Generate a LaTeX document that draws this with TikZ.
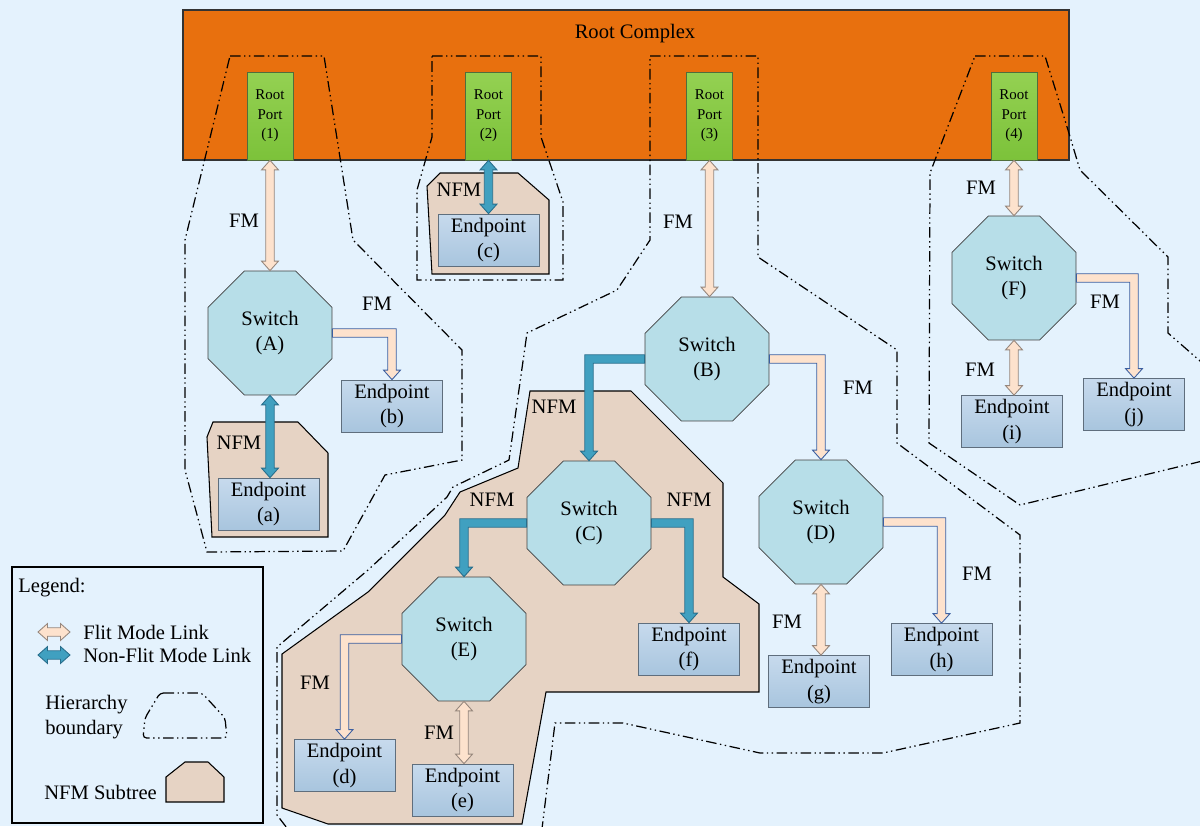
\documentclass[tikz,border=0pt]{standalone}
\usepackage{fontspec}
\setmainfont{Liberation Serif}
\usetikzlibrary{calc,shapes.geometric}

\definecolor{bgblue}{RGB}{228,242,253}
\definecolor{rcorange}{RGB}{232,112,14}
\definecolor{porttop}{RGB}{148,209,82}
\definecolor{portbot}{RGB}{124,194,58}
\definecolor{portline}{RGB}{80,110,60}
\definecolor{swfill}{RGB}{183,222,232}
\definecolor{eptop}{RGB}{199,218,237}
\definecolor{epbot}{RGB}{168,197,222}
\definecolor{epline}{RGB}{95,110,125}
\definecolor{subfill}{RGB}{230,211,196}
\definecolor{fmfill}{RGB}{253,226,205}
\definecolor{fmline}{RGB}{150,135,125}
\definecolor{fmblue}{RGB}{60,95,160}
\definecolor{nfmfill}{RGB}{64,160,192}
\definecolor{nfmline}{RGB}{40,110,140}

\tikzset{
  txt/.style={font=\fontsize{11.7}{14.5}\selectfont, align=center},
  ltxt/.style={txt, inner sep=0pt, anchor=west},
  port/.style={draw=portline, top color=porttop, bottom color=portbot, minimum width=0.92cm,
    minimum height=1.76cm, inner sep=0pt, font=\fontsize{8.5}{11}\selectfont, align=center},
  switch/.style={txt, draw=black!75, fill=swfill, regular polygon, regular polygon sides=8,
    minimum size=2.684cm, inner sep=0pt},
  endpoint/.style={txt, draw=epline, top color=eptop, bottom color=epbot, minimum width=2.02cm,
    minimum height=1.04cm, inner sep=0pt},
  subtree/.style={draw=black, fill=subfill, line width=0.6pt},
  hbound/.style={draw=black, line width=0.7pt, dash pattern=on 6pt off 2pt on 0.8pt off 2pt on 0.8pt off 2pt},
  fm/.style={draw=fmline, fill=fmfill, line width=0.5pt},
  fmb/.style={draw=fmblue, fill=fmfill, line width=0.5pt},
  nfm/.style={draw=nfmline, fill=nfmfill, line width=0.5pt},
  dblv/.style={to path={let \p1=(\tikztostart.south), \p2=(\tikztotarget.north) in
    (\x1,\y1) -- (\x1+4.8pt,\y1-5.4pt) -- (\x1+2.4pt,\y1-5.4pt) -- (\x1+2.4pt,\y2+5.4pt)
    -- (\x1+4.8pt,\y2+5.4pt) -- (\x1,\y2) -- (\x1-4.8pt,\y2+5.4pt) -- (\x1-2.4pt,\y2+5.4pt)
    -- (\x1-2.4pt,\y1-5.4pt) -- (\x1-4.8pt,\y1-5.4pt) -- cycle}},
  dblh/.style={to path={let \p1=(\tikztostart), \p2=(\tikztotarget) in
    (\x1,\y1) -- (\x1+5.4pt,\y1+4.8pt) -- (\x1+5.4pt,\y1+2.4pt) -- (\x2-5.4pt,\y1+2.4pt)
    -- (\x2-5.4pt,\y1+4.8pt) -- (\x2,\y1) -- (\x2-5.4pt,\y1-4.8pt) -- (\x2-5.4pt,\y1-2.4pt)
    -- (\x1+5.4pt,\y1-2.4pt) -- (\x1+5.4pt,\y1-4.8pt) -- cycle}},
  elbowR/.style={to path={let \p1=(\tikztostart.east), \p2=(\tikztotarget.north) in
    (\x1,\y1+2.4pt) -- (\x2+2.4pt,\y1+2.4pt) -- (\x2+2.4pt,\y2+5.4pt) -- (\x2+4.8pt,\y2+5.4pt)
    -- (\x2,\y2) -- (\x2-4.8pt,\y2+5.4pt) -- (\x2-2.4pt,\y2+5.4pt) -- (\x2-2.4pt,\y1-2.4pt)
    -- (\x1,\y1-2.4pt) -- cycle}},
  elbowL/.style={to path={let \p1=(\tikztostart.west), \p2=(\tikztotarget.north) in
    (\x1,\y1+2.4pt) -- (\x2-2.4pt,\y1+2.4pt) -- (\x2-2.4pt,\y2+5.4pt) -- (\x2-4.8pt,\y2+5.4pt)
    -- (\x2,\y2) -- (\x2+4.8pt,\y2+5.4pt) -- (\x2+2.4pt,\y2+5.4pt) -- (\x2+2.4pt,\y1-2.4pt)
    -- (\x1,\y1-2.4pt) -- cycle}}
}

\begin{document}
\begin{tikzpicture}[x=0.02cm, y=-0.02cm]
            \useasboundingbox (0,0) rectangle (1200,826);
            \fill[bgblue] (0,0) rectangle (1200,826);
            \clip (0,0) rectangle (1200,826);

            \node (rc) [draw=black!80, line width=0.8pt, fill=rcorange, minimum width=17.72cm,
              minimum height=3cm, inner sep=0pt] at (626,85) {};
            \node (rctitle) [txt] at (635,34) {Root Complex};

            % NFM subtrees
            \draw[subtree] (207,437) -- (213,422) -- (298,422) -- (328,453) -- (328,537) -- (212,537) -- cycle;
            \draw[subtree] (427,186) -- (440,173) -- (518,173) -- (549,200) -- (549,274) -- (432,274) -- cycle;
            \draw[subtree] (530,391) -- (631,391) -- (723,483) -- (723,577) -- (759,604) -- (759,692)
              -- (546,692) -- (522,824) -- (328,824) -- (282,808) -- (282,654) -- (368,592)
              -- (445,515) -- (460,492) -- (518,468) -- cycle;

            % hierarchy boundaries
            \draw[hbound] (230,56) -- (324,56) -- (353,240) -- (462,350) -- (462,460) -- (385,475)
              -- (343,551) -- (207,552) -- (185,470) -- (185,240) -- cycle;
            \draw[hbound] (432,56) -- (541,56) -- (541,137) -- (563,202) -- (563,280) -- (417,280)
              -- (417,190) -- (432,137) -- cycle;
            \draw[hbound] (650,56) -- (758,56) -- (758,257) -- (897,350) -- (897,443) -- (1020,535)
              -- (1020,723) -- (883,753) -- (760,753) -- (623,723) -- (555,723) -- (540,845)
              -- (300,845) -- (277,815) -- (277,647) -- (368,570) -- (447,497) -- (453,487)
              -- (509,460) -- (527,333) -- (617,290) -- (650,240) -- cycle;
            \draw[hbound] (975,56) -- (1045,56) -- (1068,130) -- (1080,170) -- (1168,257) -- (1168,333)
              -- (1215,374) -- (1215,458) -- (1020,505) -- (929,443) -- (930,173) -- cycle;

            \node (1) [port] at (270,116) {Root\\Port\\(1)};
            \node (2) [port] at (488.5,116) {Root\\Port\\(2)};
            \node (3) [port] at (709.5,116) {Root\\Port\\(3)};
            \node (4) [port] at (1014,116) {Root\\Port\\(4)};

            \node (A) [switch] at (270,333) {Switch\\(A)};
            \node (B) [switch] at (707,359) {Switch\\(B)};
            \node (C) [switch] at (589,523) {Switch\\(C)};
            \node (D) [switch] at (821,522) {Switch\\(D)};
            \node (E) [switch] at (464,639) {Switch\\(E)};
            \node (F) [switch] at (1014,278) {Switch\\(F)};

            \node (a) [endpoint] at (268.5,504) {Endpoint\\(a)};
            \node (b) [endpoint] at (392,406) {Endpoint\\(b)};
            \node (c) [endpoint] at (488.5,240) {Endpoint\\(c)};
            \node (d) [endpoint] at (344.5,765.5) {Endpoint\\(d)};
            \node (e) [endpoint] at (462.5,790) {Endpoint\\(e)};
            \node (f) [endpoint] at (689,649) {Endpoint\\(f)};
            \node (g) [endpoint] at (819,681.5) {Endpoint\\(g)};
            \node (h) [endpoint] at (941.5,649.5) {Endpoint\\(h)};
            \node (i) [endpoint] at (1012,421.5) {Endpoint\\(i)};
            \node (j) [endpoint] at (1134,404.5) {Endpoint\\(j)};

            \path
            (1) edge[fm, dblv] (A)
            (A) edge[nfm, dblv] (a)
            (A) edge[fmb, elbowR] (b)
            (2) edge[nfm, dblv] (c)
            (3) edge[fm, dblv] (B)
            (B) edge[nfm, elbowL] (C)
            (B) edge[fmb, elbowR] (D)
            (C) edge[nfm, elbowL] (E)
            (C) edge[nfm, elbowR] (f)
            (E) edge[fmb, elbowL] (d)
            (E) edge[fm, dblv] (e)
            (D) edge[fm, dblv] (g)
            (D) edge[fmb, elbowR] (h)
            (4) edge[fm, dblv] (F)
            (F) edge[fm, dblv] (i)
            (F) edge[fmb, elbowR] (j);

            \node (fm1) [txt] at (244,221) {FM};
            \node (fm2) [txt] at (377,304) {FM};
            \node (nfm1) [txt] at (239,443) {NFM};
            \node (nfm2) [txt] at (459,190) {NFM};
            \node (fm3) [txt] at (678,222) {FM};
            \node (fm4) [txt] at (858,388) {FM};
            \node (nfm3) [txt] at (554,407) {NFM};
            \node (nfm4) [txt] at (492,500) {NFM};
            \node (nfm5) [txt] at (689,500) {NFM};
            \node (fm5) [txt] at (315,683) {FM};
            \node (fm6) [txt] at (439,733) {FM};
            \node (fm7) [txt] at (787,622) {FM};
            \node (fm8) [txt] at (977,574) {FM};
            \node (fm9) [txt] at (981,188) {FM};
            \node (fm10) [txt] at (1105,302) {FM};
            \node (fm11) [txt] at (980,370) {FM};

            % legend
            \node (legend) [draw=black, line width=0.7pt, minimum width=5.02cm, minimum height=5.12cm,
              inner sep=0pt] at (137.5,695) {};
            \node (lgtitle) [ltxt] at (18,588) {Legend:};
            \coordinate (lfm1) at (38,632);
            \coordinate (lfm2) at (70,632);
            \coordinate (lnfm1) at (38,655);
            \coordinate (lnfm2) at (70,655);
            \path
            (lfm1) edge[fm, dblh] (lfm2)
            (lnfm1) edge[nfm, dblh] (lnfm2);
            \node (lgfm) [ltxt] at (83,632) {Flit Mode Link};
            \node (lgnfm) [ltxt] at (83,655) {Non-Flit Mode Link};
            \node (lgbound) [ltxt, align=left] at (45,717) {Hierarchy\\boundary};
            \draw[hbound, rounded corners=2pt] (160,693) -- (202,693) -- (225,718) -- (227,738)
              -- (143,738) -- (145,718) -- cycle;
            \node (lgsub) [ltxt] at (44,792) {NFM Subtree};
            \draw[subtree] (166,777) -- (185,762) -- (208,762) -- (224,777) -- (224,802) -- (166,802) -- cycle;

        \end{tikzpicture}
\end{document}
